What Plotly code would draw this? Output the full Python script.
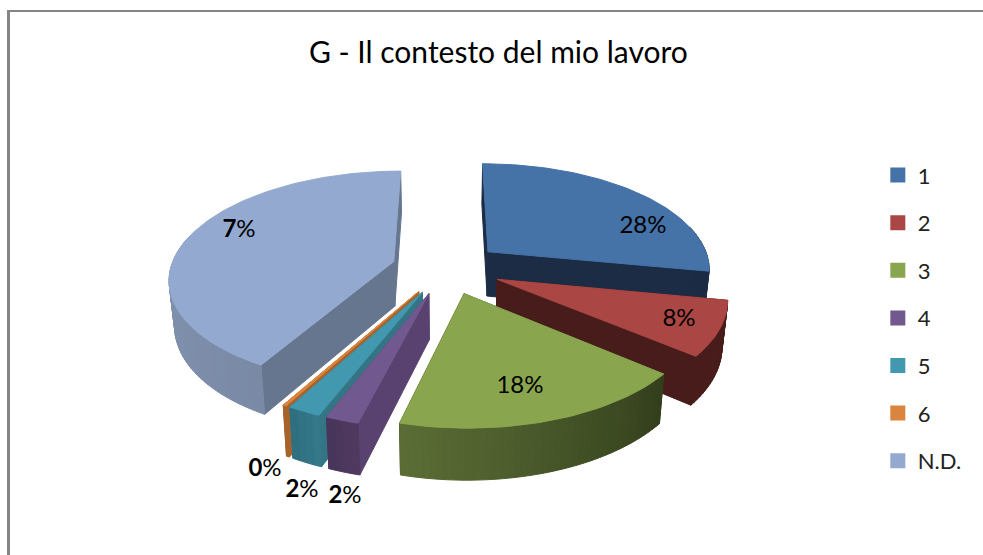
import math
import plotly.graph_objects as go

categories = ["1", "2", "3", "4", "5", "6", "N.D."]
shares = [28, 8, 18, 2, 2, 0.2, 41.8]
shown_labels = ["28%", "8%", "18%", "<b>2</b>%", "<b>2</b>%", "<b>0</b>%", "<b>7</b>%"]
top_colors = ["#4572a7", "#aa4643", "#89a54e", "#71588f", "#4198af", "#db843d", "#93a9cf"]
edge_colors = ["#1b2c44", "#471c1a", "#333f1c", "#5a4270", "#337585", "#a8632a", "#67768f"]
rim_left = ["#1b2c44", "#471c1a", "#5c6e36", "#46345a", "#2e6c7c", "#a8632a", "#8a9dbd"]
rim_right = ["#1b2c44", "#471c1a", "#333f1c", "#50395f", "#34788a", "#a8632a", "#7a8aa6"]

# label anchor positions in pixels (layout, not data)
label_xy = [(643, 227), (679, 320), (520, 387), (345, 497), (302, 491), (265, 470), (239, 231)]
draw_order = [0, 6, 1, 2, 5, 4, 3]

CX, CY = 446.5, 268
R, TILT, PERSP, PULL, DEPTH, SHRINK = 223, 0.474, 0.15, 55, 45, 0.98


def project(theta, radius, mid, low=False):
    wx = PULL * math.sin(mid) + radius * math.sin(theta)
    wz = -PULL * math.cos(mid) - radius * math.cos(theta)
    s = 1 / (1 - PERSP * wz / R)
    k = SHRINK if low else 1
    return CX + wx * s * k, CY + TILT * wz * s * k + (DEPTH * s if low else 0)


def hex_mix(a, b, t):
    ca = [int(a[i:i + 2], 16) for i in (1, 3, 5)]
    cb = [int(b[i:i + 2], 16) for i in (1, 3, 5)]
    return "rgb(%d,%d,%d)" % tuple(round(x + (y - x) * t) for x, y in zip(ca, cb))


fig = go.Figure()


def poly(points, color):
    xs = [p[0] for p in points] + [points[0][0]]
    ys = [p[1] for p in points] + [points[0][1]]
    fig.add_trace(go.Scatter(x=xs, y=ys, mode="lines", fill="toself", fillcolor=color,
                             line=dict(color=color, width=1), hoverinfo="skip",
                             showlegend=False))


total = sum(shares)
starts, acc = [], 0.0
for v in shares:
    starts.append(acc)
    acc += v
for i in draw_order:
    a0 = starts[i] / total * 2 * math.pi
    a1 = (starts[i] + shares[i]) / total * 2 * math.pi
    mid = (a0 + a1) / 2
    for a in (a0, a1):
        poly([project(a, 0, mid), project(a, R, mid), project(a, R, mid, True), project(a, 0, mid, True)],
             edge_colors[i])
    n = max(2, int((a1 - a0) / math.radians(1.5)))
    thetas = [a0 + (a1 - a0) * j / n for j in range(n + 1)]
    for j in range(n):
        t0, t1 = thetas[j], thetas[j + 1]
        if -math.cos((t0 + t1) / 2) < -0.25:
            continue
        poly([project(t0, R, mid), project(t1, R, mid), project(t1, R, mid, True), project(t0, R, mid, True)],
             hex_mix(rim_right[i], rim_left[i], j / n))
    poly([project(0, 0, mid)] + [project(t, R, mid) for t in thetas], top_colors[i])

for name, color in zip(categories, top_colors):
    fig.add_trace(go.Scatter(x=[None], y=[None], mode="markers", name=name, legendgroup=name,
                             marker=dict(symbol="square", size=15, color=color)))

fig.add_trace(go.Scatter(x=[p[0] for p in label_xy], y=[p[1] for p in label_xy], mode="text",
                         text=shown_labels, textposition="middle center",
                         textfont=dict(family="Lato", size=24, color="#000000"),
                         hoverinfo="skip", showlegend=False))

fig.update_layout(
    width=983, height=555, margin=dict(l=0, r=0, t=0, b=0),
    paper_bgcolor="white", plot_bgcolor="white",
    xaxis=dict(range=[0, 983], visible=False, fixedrange=True),
    yaxis=dict(range=[555, 0], visible=False, fixedrange=True),
    title=dict(text="G - Il contesto del mio lavoro", x=0.507, y=0.905, xanchor="center", yanchor="middle",
               font=dict(family="Lato", size=30, color="#000000")),
    legend=dict(x=0.893, y=0.722, xanchor="left", yanchor="top", yref="paper", tracegroupgap=16,
                font=dict(family="Lato", size=22, color="#222222"), bgcolor="rgba(0,0,0,0)"),
    shapes=[
        dict(type="line", xref="x", yref="y", x0=8.5, x1=8.5, y0=10, y1=555, line=dict(color="#858585", width=3)),
        dict(type="line", xref="x", yref="y", x0=7, x1=983, y0=11, y1=11, line=dict(color="#858585", width=2)),
    ],
)
fig.write_html("out.html", config={"displayModeBar": False},
               post_script="document.body.style.margin='0';document.body.style.overflow='hidden';")
